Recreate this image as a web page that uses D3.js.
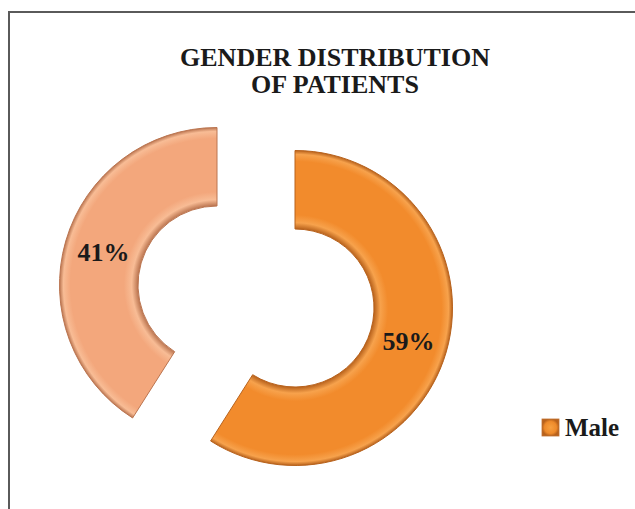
<!DOCTYPE html>
<html>
<head>
<meta charset="utf-8">
<script src="https://cdn.jsdelivr.net/npm/d3@7"></script>
<style>
  html, body { margin: 0; padding: 0; background: #fff; overflow: hidden; }
  svg { display: block; }
  text { font-family: "Liberation Serif", "Times New Roman", serif; font-weight: bold; fill: #1a1a1a; }
</style>
</head>
<body>
<svg id="chart" width="635" height="509"></svg>
<script>
    // chart data
    var categories = ['Male', 'Female'];
    var values = [59, 41];
    var legendItems = ['Male'];
    var titleLines = ['GENDER DISTRIBUTION', 'OF PATIENTS'];

    var width = 635, height = 509;
    var cx = 256, cy = 296.5;
    var outerR = 157.5, innerR = 79;
    // how far each slice is pulled out of the ring
    var explode = { Male: [39, 11.5], Female: [-39, -11.5] };
    var colors = {
        Male: { base: '#f28b2c', dark: '#b8621c', light: '#f7a24c' },
        Female: { base: '#f3a77c', dark: '#bb7550', light: '#f8bc95' }
    };

    var svg = d3.select('#chart');
    var defs = svg.append('defs');

    // frame, right and bottom sides run off the picture
    svg.append('path')
        .attr('d', 'M9,' + height + 'V12H' + width)
        .attr('fill', 'none')
        .attr('stroke', '#5a5a5a')
        .attr('stroke-width', 2);

    svg.append('g')
        .selectAll('text')
        .data(titleLines)
        .enter()
        .append('text')
        .attr('x', 335)
        .attr('y', function (d, i) { return 66 + i * 27; })
        .attr('text-anchor', 'middle')
        .attr('font-size', 26)
        .text(function (d) { return d; });

    var pie = d3.pie().sort(null).value(function (d) { return d.value; });
    var arc = d3.arc().innerRadius(innerR).outerRadius(outerR);
    var slices = pie(categories.map(function (c, i) { return { name: c, value: values[i] }; }));

    // bevel look: darker rims on the inner and outer arcs
    slices.forEach(function (s) {
        var c = colors[s.data.name];
        var g = defs.append('radialGradient')
            .attr('id', 'grad-' + s.data.name)
            .attr('gradientUnits', 'userSpaceOnUse')
            .attr('cx', 0).attr('cy', 0).attr('r', outerR);
        var k = innerR / outerR;
        [[0, c.dark], [k, c.dark], [k + 0.04, c.light], [k + 0.09, c.base],
         [0.93, c.base], [0.975, c.light], [1, c.dark]].forEach(function (st) {
            g.append('stop').attr('offset', st[0]).attr('stop-color', st[1]);
        });
    });

    var sliceG = svg.selectAll('.slice')
        .data(slices)
        .enter()
        .append('g')
        .attr('class', 'slice')
        .attr('transform', function (d) {
            var o = explode[d.data.name];
            return 'translate(' + (cx + o[0]) + ',' + (cy + o[1]) + ')';
        });

    sliceG.append('path')
        .attr('d', arc)
        .attr('fill', function (d) { return 'url(#grad-' + d.data.name + ')'; })
        .attr('stroke', function (d) { return colors[d.data.name].dark; })
        .attr('stroke-width', 1)
        .attr('stroke-linejoin', 'round');

    sliceG.append('text')
        .attr('transform', function (d) { return 'translate(' + arc.centroid(d) + ')'; })
        .attr('text-anchor', 'middle')
        .attr('dy', '0.35em')
        .attr('font-size', 26)
        .text(function (d) { return d.data.value + '%'; });

    var legend = svg.selectAll('.legend')
        .data(legendItems)
        .enter()
        .append('g')
        .attr('class', 'legend')
        .attr('transform', function (d, i) { return 'translate(542,' + (419 + i * 30) + ')'; });

    var lg = defs.append('radialGradient').attr('id', 'legend-grad');
    lg.append('stop').attr('offset', 0).attr('stop-color', '#f7a040');
    lg.append('stop').attr('offset', 0.7).attr('stop-color', '#ee8a2a');
    lg.append('stop').attr('offset', 1).attr('stop-color', '#b8621c');

    legend.append('rect')
        .attr('width', 17)
        .attr('height', 17)
        .attr('fill', 'url(#legend-grad)')
        .attr('stroke', '#c07030')
        .attr('stroke-width', 0.8);

    legend.append('text')
        .attr('x', 23)
        .attr('y', 17)
        .attr('font-size', 25)
        .text(function (d) { return d; });
</script>
</body>
</html>
